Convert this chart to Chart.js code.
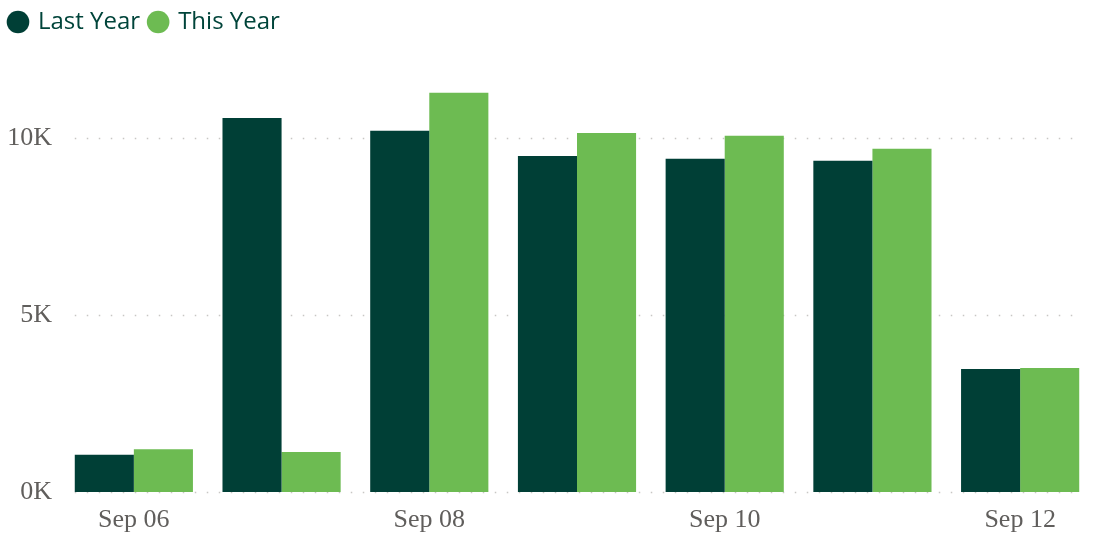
<!DOCTYPE html>
<html>
<head>
<meta charset="utf-8">
<script src="https://cdn.jsdelivr.net/npm/chart.js@4"></script>
<style>
  html, body { margin: 0; padding: 0; background: #fff; }
  #wrap { width: 1094px; height: 542px; position: relative; }
</style>
</head>
<body>
<div id="wrap"><canvas id="sales"></canvas></div>
<script>
// Days shown on the x axis
let days = ['Sep 06', 'Sep 07', 'Sep 08', 'Sep 09', 'Sep 10', 'Sep 11', 'Sep 12']

// Values
let lastYear = [1050, 10560, 10200, 9490, 9410, 9350, 3470]
let thisYear = [1210, 1130, 11270, 10140, 10060, 9690, 3500]

// Y ticks that carry a label
let yTicks = [0, 5000, 10000]

let darkGreen = '#003f36'
let lightGreen = '#6dbb52'
let tickGrey = '#605e5c'

// Dotted grid lines, only as wide as the bar groups
let dottedGrid = {
    id: 'dottedGrid',
    beforeDatasetsDraw(chart) {
        let x = chart.scales.x
        let y = chart.scales.y
        let half = x.width / days.length * 0.8 / 2
        let left = x.getPixelForValue(0) - half
        let right = x.getPixelForValue(days.length - 1) + half
        let ctx = chart.ctx
        ctx.save()
        ctx.strokeStyle = '#c8c6c4'
        ctx.lineWidth = 1.5
        ctx.setLineDash([1.5, 10.5])
        yTicks.forEach((v) => {
            let py = Math.round(y.getPixelForValue(v)) + 0.5
            ctx.beginPath()
            ctx.moveTo(left, py)
            ctx.lineTo(right, py)
            ctx.stroke()
        })
        ctx.restore()
    }
}

// Give the legend a fixed height so the plot starts where the reference does
let legendSpace = {
    id: 'legendSpace',
    beforeInit(chart) {
        let fit = chart.legend.fit
        chart.legend.fit = function () {
            fit.bind(chart.legend)()
            this.height = 67
        }
    }
}

let chart = new Chart(document.getElementById('sales'), {
    type: 'bar',
    data: {
        labels: days,
        datasets: [
            { label: 'Last Year', data: lastYear, backgroundColor: darkGreen },
            { label: 'This Year', data: thisYear, backgroundColor: lightGreen }
        ]
    },
    options: {
        responsive: true,
        maintainAspectRatio: false,
        animation: false,
        categoryPercentage: 0.8,
        barPercentage: 1.0,
        layout: { padding: 0 },
        plugins: {
            tooltip: { enabled: false },
            legend: {
                position: 'top',
                align: 'start',
                labels: {
                    usePointStyle: true,
                    pointStyle: 'circle',
                    boxWidth: 16,
                    boxHeight: 16,
                    padding: 10,
                    color: '#00443a',
                    font: { family: '"Open Sans", sans-serif', size: 24 }
                }
            }
        },
        scales: {
            x: {
                grid: { display: false, drawTicks: false },
                border: { display: false },
                afterFit: (axis) => { axis.height = 50 },
                ticks: {
                    autoSkip: false,
                    maxRotation: 0,
                    padding: 13,
                    color: tickGrey,
                    font: { family: '"Liberation Serif", serif', size: 26 },
                    callback: (v, i) => (i % 2 === 0 ? days[i] : '')
                }
            },
            y: {
                min: 0,
                max: 12000,
                grid: { display: false, drawTicks: false },
                border: { display: false },
                afterFit: (axis) => { axis.width = 60 },
                afterBuildTicks: (axis) => {
                    axis.ticks = yTicks.map((v) => ({ value: v }))
                },
                ticks: {
                    padding: 8,
                    color: tickGrey,
                    font: { family: '"Liberation Serif", serif', size: 26 },
                    callback: (v) => (v / 1000) + 'K'
                }
            }
        }
    },
    plugins: [dottedGrid, legendSpace]
})
</script>
</body>
</html>
